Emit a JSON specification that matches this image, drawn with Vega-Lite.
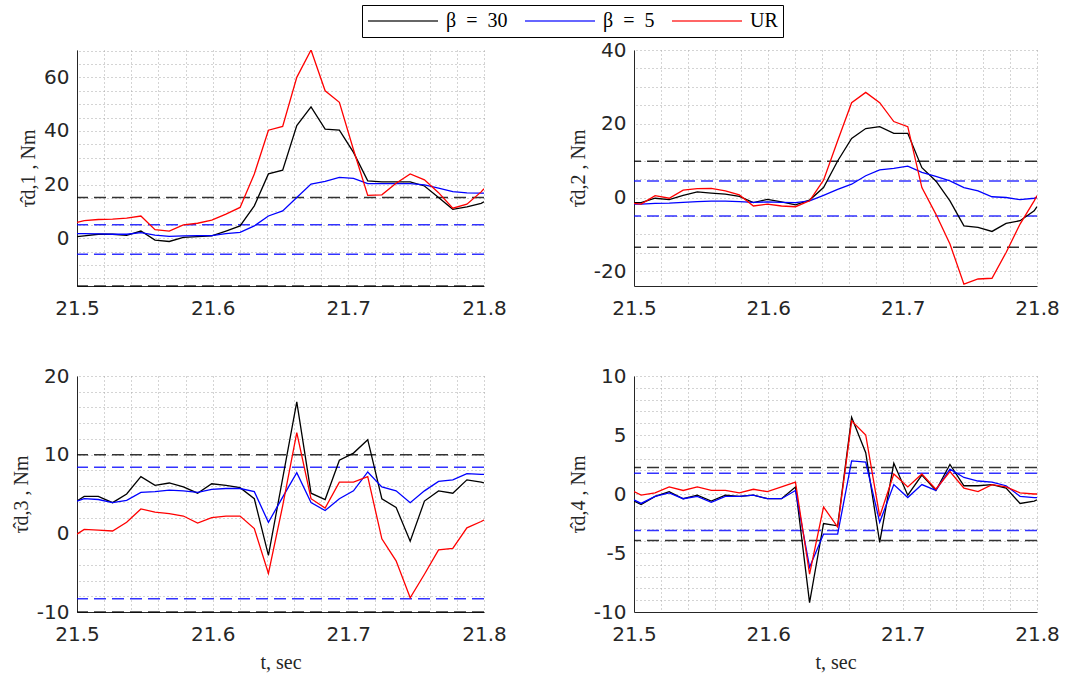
{
  "$schema": "https://vega.github.io/schema/vega-lite/v6.json",
  "padding": {"left": 11, "top": 4, "right": 5, "bottom": 5},
  "background": "white",
  "columns": 2,
  "spacing": {"row": 48, "column": 61},
  "datasets": {
    "ts": [
      {"p":1,"t":21.5,"b30":0.6,"b5":1.7,"ur":5.9},
      {"p":1,"t":21.5053,"b30":0.9,"b5":1.7,"ur":6.6},
      {"p":1,"t":21.5157,"b30":1.5,"b5":1.6,"ur":7.0},
      {"p":1,"t":21.5262,"b30":1.5,"b5":1.5,"ur":7.1},
      {"p":1,"t":21.5366,"b30":1.1,"b5":1.5,"ur":7.5},
      {"p":1,"t":21.5471,"b30":2.7,"b5":2.1,"ur":8.3},
      {"p":1,"t":21.5575,"b30":-0.7,"b5":1.2,"ur":3.2},
      {"p":1,"t":21.568,"b30":-1.2,"b5":0.7,"ur":2.7},
      {"p":1,"t":21.5784,"b30":0.3,"b5":0.9,"ur":5.0},
      {"p":1,"t":21.5889,"b30":0.6,"b5":1.0,"ur":5.6},
      {"p":1,"t":21.5993,"b30":0.9,"b5":1.0,"ur":6.8},
      {"p":1,"t":21.6098,"b30":2.7,"b5":1.7,"ur":9.0},
      {"p":1,"t":21.6202,"b30":4.6,"b5":2.2,"ur":11.5},
      {"p":1,"t":21.6307,"b30":12.1,"b5":4.6,"ur":24.0},
      {"p":1,"t":21.6411,"b30":24.0,"b5":8.3,"ur":40.3},
      {"p":1,"t":21.6516,"b30":25.4,"b5":10.2,"ur":41.7},
      {"p":1,"t":21.662,"b30":42.0,"b5":15.2,"ur":60.0},
      {"p":1,"t":21.6725,"b30":49.0,"b5":20.2,"ur":70.2},
      {"p":1,"t":21.6829,"b30":40.7,"b5":21.2,"ur":55.0},
      {"p":1,"t":21.6934,"b30":40.3,"b5":22.7,"ur":50.7},
      {"p":1,"t":21.7038,"b30":32.0,"b5":22.3,"ur":33.0},
      {"p":1,"t":21.7143,"b30":21.4,"b5":20.4,"ur":16.0},
      {"p":1,"t":21.7247,"b30":21.0,"b5":20.4,"ur":16.2},
      {"p":1,"t":21.7352,"b30":21.0,"b5":20.4,"ur":20.5},
      {"p":1,"t":21.7456,"b30":21.0,"b5":20.4,"ur":24.0},
      {"p":1,"t":21.7561,"b30":19.5,"b5":19.9,"ur":21.8},
      {"p":1,"t":21.7665,"b30":15.2,"b5":18.7,"ur":17.0},
      {"p":1,"t":21.777,"b30":10.8,"b5":17.4,"ur":11.2},
      {"p":1,"t":21.7874,"b30":11.7,"b5":16.9,"ur":12.7},
      {"p":1,"t":21.7979,"b30":13.0,"b5":16.8,"ur":17.3},
      {"p":1,"t":21.8,"b30":13.6,"b5":16.8,"ur":18.5},

      {"p":2,"t":21.5,"b30":-1.4,"b5":-1.8,"ur":-1.6},
      {"p":2,"t":21.5053,"b30":-1.4,"b5":-1.8,"ur":-1.8},
      {"p":2,"t":21.5157,"b30":-0.2,"b5":-1.6,"ur":0.5},
      {"p":2,"t":21.5262,"b30":-0.6,"b5":-1.5,"ur":-0.2},
      {"p":2,"t":21.5366,"b30":0.6,"b5":-1.3,"ur":2.0},
      {"p":2,"t":21.5471,"b30":1.5,"b5":-1.1,"ur":2.4},
      {"p":2,"t":21.5575,"b30":1.2,"b5":-1.0,"ur":2.5},
      {"p":2,"t":21.568,"b30":0.9,"b5":-1.0,"ur":1.8},
      {"p":2,"t":21.5784,"b30":0.3,"b5":-1.1,"ur":0.7},
      {"p":2,"t":21.5889,"b30":-1.4,"b5":-1.3,"ur":-2.3},
      {"p":2,"t":21.5993,"b30":-0.5,"b5":-1.2,"ur":-1.8},
      {"p":2,"t":21.6098,"b30":-1.2,"b5":-1.3,"ur":-2.3},
      {"p":2,"t":21.6202,"b30":-2.0,"b5":-1.4,"ur":-2.5},
      {"p":2,"t":21.6307,"b30":-0.7,"b5":-0.9,"ur":-0.9},
      {"p":2,"t":21.6411,"b30":2.7,"b5":0.6,"ur":4.7},
      {"p":2,"t":21.6516,"b30":9.9,"b5":2.2,"ur":15.4},
      {"p":2,"t":21.662,"b30":16.0,"b5":3.6,"ur":25.7},
      {"p":2,"t":21.6725,"b30":18.7,"b5":5.9,"ur":28.5},
      {"p":2,"t":21.6829,"b30":19.2,"b5":7.5,"ur":25.7},
      {"p":2,"t":21.6934,"b30":17.4,"b5":7.9,"ur":20.6},
      {"p":2,"t":21.7038,"b30":17.4,"b5":8.5,"ur":19.2},
      {"p":2,"t":21.7143,"b30":8.1,"b5":6.8,"ur":2.7},
      {"p":2,"t":21.7247,"b30":4.5,"b5":5.7,"ur":-4.5},
      {"p":2,"t":21.7352,"b30":-0.9,"b5":4.5,"ur":-12.6},
      {"p":2,"t":21.7456,"b30":-7.7,"b5":2.7,"ur":-23.5},
      {"p":2,"t":21.7561,"b30":-8.1,"b5":1.8,"ur":-22.1},
      {"p":2,"t":21.7665,"b30":-9.2,"b5":0.2,"ur":-21.9},
      {"p":2,"t":21.777,"b30":-7.0,"b5":0.0,"ur":-14.9},
      {"p":2,"t":21.7874,"b30":-6.3,"b5":-0.6,"ur":-7.2},
      {"p":2,"t":21.7979,"b30":-3.6,"b5":-0.2,"ur":-0.9},
      {"p":2,"t":21.8,"b30":-2.5,"b5":0.0,"ur":0.5},

      {"p":3,"t":21.5,"b30":4.1,"b5":4.1,"ur":-0.1},
      {"p":3,"t":21.5053,"b30":4.7,"b5":4.4,"ur":0.5},
      {"p":3,"t":21.5157,"b30":4.7,"b5":4.3,"ur":0.4},
      {"p":3,"t":21.5262,"b30":3.9,"b5":3.9,"ur":0.3},
      {"p":3,"t":21.5366,"b30":5.0,"b5":4.2,"ur":1.4},
      {"p":3,"t":21.5471,"b30":7.2,"b5":5.2,"ur":3.1},
      {"p":3,"t":21.5575,"b30":6.1,"b5":5.3,"ur":2.7},
      {"p":3,"t":21.568,"b30":6.4,"b5":5.5,"ur":2.5},
      {"p":3,"t":21.5784,"b30":5.9,"b5":5.4,"ur":2.2},
      {"p":3,"t":21.5889,"b30":5.1,"b5":5.2,"ur":1.3},
      {"p":3,"t":21.5993,"b30":6.3,"b5":5.6,"ur":2.0},
      {"p":3,"t":21.6098,"b30":6.1,"b5":5.7,"ur":2.2},
      {"p":3,"t":21.6202,"b30":5.8,"b5":5.7,"ur":2.2},
      {"p":3,"t":21.6307,"b30":4.4,"b5":5.3,"ur":0.6},
      {"p":3,"t":21.6411,"b30":-2.8,"b5":1.4,"ur":-5.1},
      {"p":3,"t":21.6516,"b30":7.0,"b5":4.6,"ur":3.5},
      {"p":3,"t":21.662,"b30":16.7,"b5":7.7,"ur":12.8},
      {"p":3,"t":21.6725,"b30":5.1,"b5":3.9,"ur":4.4},
      {"p":3,"t":21.6829,"b30":4.3,"b5":2.9,"ur":3.2},
      {"p":3,"t":21.6934,"b30":9.3,"b5":4.4,"ur":6.5},
      {"p":3,"t":21.7038,"b30":10.2,"b5":5.4,"ur":6.5},
      {"p":3,"t":21.7143,"b30":11.9,"b5":7.8,"ur":7.2},
      {"p":3,"t":21.7247,"b30":4.4,"b5":5.9,"ur":-0.7},
      {"p":3,"t":21.7352,"b30":3.3,"b5":5.4,"ur":-3.5},
      {"p":3,"t":21.7456,"b30":-1.0,"b5":3.9,"ur":-8.2},
      {"p":3,"t":21.7561,"b30":4.1,"b5":5.4,"ur":-5.2},
      {"p":3,"t":21.7665,"b30":5.4,"b5":6.6,"ur":-2.1},
      {"p":3,"t":21.777,"b30":5.1,"b5":6.8,"ur":-1.9},
      {"p":3,"t":21.7874,"b30":6.8,"b5":7.6,"ur":0.7},
      {"p":3,"t":21.7979,"b30":6.5,"b5":7.5,"ur":1.5},
      {"p":3,"t":21.8,"b30":6.4,"b5":7.5,"ur":1.7},

      {"p":4,"t":21.5,"b30":-0.6,"b5":-0.5,"ur":0.2},
      {"p":4,"t":21.5053,"b30":-0.9,"b5":-0.8,"ur":-0.1},
      {"p":4,"t":21.5157,"b30":-0.2,"b5":-0.2,"ur":0.1},
      {"p":4,"t":21.5262,"b30":0.2,"b5":0.1,"ur":0.6},
      {"p":4,"t":21.5366,"b30":-0.4,"b5":-0.4,"ur":0.3},
      {"p":4,"t":21.5471,"b30":-0.1,"b5":-0.2,"ur":0.6},
      {"p":4,"t":21.5575,"b30":-0.6,"b5":-0.7,"ur":0.3},
      {"p":4,"t":21.568,"b30":-0.1,"b5":-0.2,"ur":0.3},
      {"p":4,"t":21.5784,"b30":-0.2,"b5":-0.2,"ur":0.1},
      {"p":4,"t":21.5889,"b30":-0.1,"b5":-0.1,"ur":0.4},
      {"p":4,"t":21.5993,"b30":-0.4,"b5":-0.4,"ur":0.2},
      {"p":4,"t":21.6098,"b30":-0.4,"b5":-0.4,"ur":0.6},
      {"p":4,"t":21.6202,"b30":0.6,"b5":0.3,"ur":1.0},
      {"p":4,"t":21.6307,"b30":-9.2,"b5":-6.2,"ur":-6.8},
      {"p":4,"t":21.6411,"b30":-2.5,"b5":-3.4,"ur":-1.1},
      {"p":4,"t":21.6516,"b30":-2.7,"b5":-3.4,"ur":-2.8},
      {"p":4,"t":21.662,"b30":6.5,"b5":2.8,"ur":6.2},
      {"p":4,"t":21.6725,"b30":3.5,"b5":2.7,"ur":5.0},
      {"p":4,"t":21.6829,"b30":-4.1,"b5":-2.4,"ur":-1.9},
      {"p":4,"t":21.6934,"b30":2.6,"b5":0.8,"ur":1.7},
      {"p":4,"t":21.7038,"b30":-0.1,"b5":-0.3,"ur":0.6},
      {"p":4,"t":21.7143,"b30":1.6,"b5":0.8,"ur":1.7},
      {"p":4,"t":21.7247,"b30":0.3,"b5":0.3,"ur":0.4},
      {"p":4,"t":21.7352,"b30":2.5,"b5":2.1,"ur":1.9},
      {"p":4,"t":21.7456,"b30":0.7,"b5":1.4,"ur":0.5},
      {"p":4,"t":21.7561,"b30":0.7,"b5":1.1,"ur":0.2},
      {"p":4,"t":21.7665,"b30":0.8,"b5":1.0,"ur":0.8},
      {"p":4,"t":21.777,"b30":0.5,"b5":0.7,"ur":0.6},
      {"p":4,"t":21.7874,"b30":-0.8,"b5":-0.2,"ur":0.1},
      {"p":4,"t":21.7979,"b30":-0.6,"b5":-0.3,"ur":0.0},
      {"p":4,"t":21.8,"b30":-0.5,"b5":-0.3,"ur":0.0}
    ],
    "refs": [
      {"p":1,"s":"b30","v":15.2},{"p":1,"s":"b30","v":-17.8},{"p":1,"s":"b5","v":5.0},{"p":1,"s":"b5","v":-6.0},
      {"p":2,"s":"b30","v":9.8},{"p":2,"s":"b30","v":-13.5},{"p":2,"s":"b5","v":4.5},{"p":2,"s":"b5","v":-5.0},
      {"p":3,"s":"b30","v":10.0},{"p":3,"s":"b30","v":-10.0},{"p":3,"s":"b5","v":8.4},{"p":3,"s":"b5","v":-8.3},
      {"p":4,"s":"b30","v":2.25},{"p":4,"s":"b30","v":-3.95},{"p":4,"s":"b5","v":1.75},{"p":4,"s":"b5","v":-3.1}
    ]
  },
  "concat": [
    {
      "width": 407, "height": 236,
      "resolve": {"axis": {"y": "independent"}},
      "layer": [
        {"data": {"name": "refs"}, "transform": [{"filter": "datum.p == 1"}],
         "mark": {"type": "rule", "strokeDash": [12, 6], "strokeWidth": 1.5, "opacity": 0.8},
         "encoding": {"y": {"field": "v", "type": "quantitative",
                            "axis": {"orient": "right", "labels": false, "domain": false, "ticks": false, "title": null, "grid": true,
                                     "values": [-15,-10,-5,0,5,10,15,20,25,30,35,40,45,50,55,60,65,70]}},
                      "color": {"field": "s", "type": "nominal"}}},
        {"data": {"name": "ts"}, "transform": [{"filter": "datum.p == 1"}, {"fold": ["b30", "b5", "ur"], "as": ["s", "val"]}],
         "mark": {"type": "line", "strokeWidth": 1.3, "clip": true},
         "encoding": {
           "x": {"field": "t", "type": "quantitative", "scale": {"domain": [21.5, 21.8], "nice": false, "zero": false},
                 "axis": {"title": null, "values": [21.5,21.52,21.54,21.56,21.58,21.6,21.62,21.64,21.66,21.68,21.7,21.72,21.74,21.76,21.78,21.8],
                          "labelExpr": "abs(datum.value*10 - round(datum.value*10)) < 0.001 ? format(datum.value, '.1f') : ''"}},
           "y": {"field": "val", "type": "quantitative", "scale": {"domain": [-17.8, 70.2], "nice": false, "zero": false},
                 "axis": {"title": "τ̂d,1 ,  Nm", "grid": false, "values": [0, 20, 40, 60], "labelExpr": "'' + datum.value"}},
           "color": {"field": "s", "type": "nominal",
                     "scale": {"domain": ["b30", "b5", "ur"], "range": ["#000000", "#0000ff", "#ff0000"]},
                     "legend": {"orient": "none", "legendX": 285, "legendY": -45, "direction": "horizontal", "title": null,
                                "labelExpr": "datum.value == 'b30' ? 'β\u2002=\u200230' : datum.value == 'b5' ? 'β\u2002=\u20025' : 'UR'"}}
         }}
      ]
    },
    {
      "width": 403, "height": 236,
      "resolve": {"axis": {"y": "independent"}},
      "layer": [
        {"data": {"name": "refs"}, "transform": [{"filter": "datum.p == 2"}],
         "mark": {"type": "rule", "strokeDash": [12, 6], "strokeWidth": 1.5, "opacity": 0.8},
         "encoding": {"y": {"field": "v", "type": "quantitative",
                            "axis": {"orient": "right", "labels": false, "domain": false, "ticks": false, "title": null, "grid": true,
                                     "values": [-20,-15,-10,-5,0,5,10,15,20,25,30,35,40]}},
                      "color": {"field": "s", "type": "nominal"}}},
        {"data": {"name": "ts"}, "transform": [{"filter": "datum.p == 2"}, {"fold": ["b30", "b5", "ur"], "as": ["s", "val"]}],
         "mark": {"type": "line", "strokeWidth": 1.3, "clip": true},
         "encoding": {
           "x": {"field": "t", "type": "quantitative", "scale": {"domain": [21.5, 21.8], "nice": false, "zero": false},
                 "axis": {"title": null, "values": [21.5,21.52,21.54,21.56,21.58,21.6,21.62,21.64,21.66,21.68,21.7,21.72,21.74,21.76,21.78,21.8],
                          "labelExpr": "abs(datum.value*10 - round(datum.value*10)) < 0.001 ? format(datum.value, '.1f') : ''"}},
           "y": {"field": "val", "type": "quantitative", "scale": {"domain": [-24, 40], "nice": false, "zero": false},
                 "axis": {"title": "τ̂d,2 ,  Nm", "grid": false, "values": [-20, 0, 20, 40], "labelExpr": "'' + datum.value"}},
           "color": {"field": "s", "type": "nominal"}
         }}
      ]
    },
    {
      "width": 407, "height": 236,
      "resolve": {"axis": {"y": "independent"}},
      "layer": [
        {"data": {"name": "refs"}, "transform": [{"filter": "datum.p == 3"}],
         "mark": {"type": "rule", "strokeDash": [12, 6], "strokeWidth": 1.5, "opacity": 0.8},
         "encoding": {"y": {"field": "v", "type": "quantitative",
                            "axis": {"orient": "right", "labels": false, "domain": false, "ticks": false, "title": null, "grid": true,
                                     "values": [-10,-8,-6,-4,-2,0,2,4,6,8,10,12,14,16,18,20]}},
                      "color": {"field": "s", "type": "nominal"}}},
        {"data": {"name": "ts"}, "transform": [{"filter": "datum.p == 3"}, {"fold": ["b30", "b5", "ur"], "as": ["s", "val"]}],
         "mark": {"type": "line", "strokeWidth": 1.3, "clip": true},
         "encoding": {
           "x": {"field": "t", "type": "quantitative", "scale": {"domain": [21.5, 21.8], "nice": false, "zero": false},
                 "axis": {"title": "t, sec", "values": [21.5,21.52,21.54,21.56,21.58,21.6,21.62,21.64,21.66,21.68,21.7,21.72,21.74,21.76,21.78,21.8],
                          "labelExpr": "abs(datum.value*10 - round(datum.value*10)) < 0.001 ? format(datum.value, '.1f') : ''"}},
           "y": {"field": "val", "type": "quantitative", "scale": {"domain": [-10, 20], "nice": false, "zero": false},
                 "axis": {"title": "τ̂d,3 ,  Nm", "grid": false, "values": [-10, 0, 10, 20], "labelExpr": "'' + datum.value"}},
           "color": {"field": "s", "type": "nominal"}
         }}
      ]
    },
    {
      "width": 403, "height": 236,
      "resolve": {"axis": {"y": "independent"}},
      "layer": [
        {"data": {"name": "refs"}, "transform": [{"filter": "datum.p == 4"}],
         "mark": {"type": "rule", "strokeDash": [12, 6], "strokeWidth": 1.5, "opacity": 0.8},
         "encoding": {"y": {"field": "v", "type": "quantitative",
                            "axis": {"orient": "right", "labels": false, "domain": false, "ticks": false, "title": null, "grid": true,
                                     "values": [-10,-9,-8,-7,-6,-5,-4,-3,-2,-1,0,1,2,3,4,5,6,7,8,9,10]}},
                      "color": {"field": "s", "type": "nominal"}}},
        {"data": {"name": "ts"}, "transform": [{"filter": "datum.p == 4"}, {"fold": ["b30", "b5", "ur"], "as": ["s", "val"]}],
         "mark": {"type": "line", "strokeWidth": 1.3, "clip": true},
         "encoding": {
           "x": {"field": "t", "type": "quantitative", "scale": {"domain": [21.5, 21.8], "nice": false, "zero": false},
                 "axis": {"title": "t, sec", "values": [21.5,21.52,21.54,21.56,21.58,21.6,21.62,21.64,21.66,21.68,21.7,21.72,21.74,21.76,21.78,21.8],
                          "labelExpr": "abs(datum.value*10 - round(datum.value*10)) < 0.001 ? format(datum.value, '.1f') : ''"}},
           "y": {"field": "val", "type": "quantitative", "scale": {"domain": [-10, 10], "nice": false, "zero": false},
                 "axis": {"title": "τ̂d,4 ,  Nm", "grid": false, "values": [-10, -5, 0, 5, 10], "labelExpr": "'' + datum.value"}},
           "color": {"field": "s", "type": "nominal"}
         }}
      ]
    }
  ],
  "resolve": {"scale": {"x": "independent", "y": "independent"}},
  "config": {
    "view": {"stroke": null},
    "axis": {
      "grid": true, "gridDash": [1, 3], "gridColor": "#a8a8a8", "gridWidth": 1,
      "ticks": false, "labelOverlap": false, "labelFlush": false,
      "domainColor": "#262626", "domainWidth": 1,
      "labelFont": "DejaVu Sans", "labelFontSize": 20, "labelColor": "#262626",
      "titleFont": "Liberation Serif", "titleFontSize": 20, "titleFontWeight": "normal", "titleColor": "#262626"
    },
    "axisX": {"labelPadding": 12, "titlePadding": 8},
    "axisY": {"labelPadding": 8, "titlePadding": 5},
    "legend": {
      "symbolType": "stroke", "symbolSize": 4900, "symbolStrokeWidth": 1.3, "clipHeight": 22,
      "labelFont": "Liberation Serif", "labelFontSize": 20, "labelColor": "#000000",
      "labelOffset": 7, "columnPadding": 16, "padding": 5,
      "strokeColor": "#000000", "fillColor": "#ffffff"
    }
  }
}
